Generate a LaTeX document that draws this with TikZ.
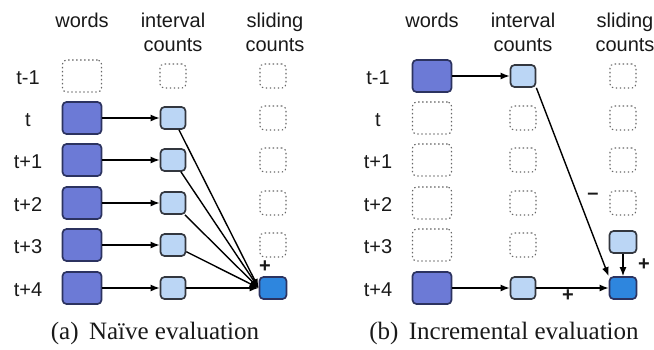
\documentclass[tikz,border=0pt]{standalone}
\usepackage{fontspec}
\usetikzlibrary{arrows.meta}
\setmainfont{Liberation Serif}
\setsansfont{Liberation Sans}
\definecolor{wordfill}{HTML}{6C7AD6}
\definecolor{wordline}{HTML}{2C3360}
\definecolor{intfill}{HTML}{BBD6F5}
\definecolor{intline}{HTML}{33373F}
\definecolor{slidefill}{HTML}{2E86DE}
\begin{document}
\begin{tikzpicture}[x=1pt,y=-1pt,
  lbl/.style={font=\sffamily\fontsize{20}{24}\selectfont, align=center, text=black!90},
  captext/.style={font=\fontsize{25}{30}\selectfont, text=black!90},
  wordbox/.style={draw=wordline, fill=wordfill, line width=1.7pt, rounded corners=4pt,
    minimum width=39pt, minimum height=32pt, inner sep=0pt},
  intbox/.style={draw=intline, fill=intfill, line width=1.7pt, rounded corners=4pt,
    minimum width=25pt, minimum height=22pt, inner sep=0pt},
  slidebox/.style={draw=intline, fill=intfill, line width=1.7pt, rounded corners=4pt,
    minimum width=27pt, minimum height=22pt, inner sep=0pt},
  sumbox/.style={slidebox, fill=slidefill, draw=wordline},
  emptyword/.style={draw=gray!80!black, dash pattern=on 1.4pt off 2.6pt, line width=1.1pt,
    rounded corners=4pt, minimum width=39pt, minimum height=32pt, inner sep=0pt},
  emptycount/.style={emptyword, minimum width=26pt, minimum height=24pt},
  link/.style={line width=1.4pt, -{Latex[length=9pt,width=7pt]}}]
\useasboundingbox (0,0) rectangle (654,349);
% (a) naive evaluation
\begin{scope}
\node[lbl] (awords) at (82,20) {words};
\node[lbl] (aint) at (173,32) {interval\\counts};
\node[lbl] (aslide) at (275,32) {sliding\\counts};
\node[lbl] (at0) at (28,78) {t-1};
\node[lbl] (at1) at (28,120) {t};
\node[lbl] (at2) at (28,162) {t+1};
\node[lbl] (at3) at (28,205) {t+2};
\node[lbl] (at4) at (28,247) {t+3};
\node[lbl] (at5) at (28,290) {t+4};
\node[emptyword] (aw0) at (82,76) {};
\node[wordbox] (aw1) at (82,118) {};
\node[wordbox] (aw2) at (82,160) {};
\node[wordbox] (aw3) at (82,203) {};
\node[wordbox] (aw4) at (82,245) {};
\node[wordbox] (aw5) at (82,288) {};
\node[emptycount] (ai0) at (173,76) {};
\node[intbox] (ai1) at (173,118) {};
\node[intbox] (ai2) at (173,160) {};
\node[intbox] (ai3) at (173,203) {};
\node[intbox] (ai4) at (173,245) {};
\node[intbox] (ai5) at (173,288) {};
\node[emptycount] (as0) at (273,76) {};
\node[emptycount] (as1) at (273,118) {};
\node[emptycount] (as2) at (273,160) {};
\node[emptycount] (as3) at (273,203) {};
\node[emptycount] (as4) at (273,245) {};
\node[sumbox] (as5) at (273,288) {};
\draw[link] (aw1) -- (ai1);
\draw[link] (aw2) -- (ai2);
\draw[link] (aw3) -- (ai3);
\draw[link] (aw4) -- (ai4);
\draw[link] (aw5) -- (ai5);
\draw[link] (ai1) -- (as5.west);
\draw[link] (ai2) -- (as5.west);
\draw[link] (ai3) -- (as5.west);
\draw[link] (ai4) -- (as5.west);
\draw[link] (ai5) -- (as5.west);
\node[lbl] (aplus) at (265,267) {\textbf{+}};
\node[captext] (acap) at (155,333) {(a)\, Naïve evaluation};
\end{scope}
% (b) incremental evaluation
\begin{scope}[xshift=350pt]
\node[lbl] (bwords) at (82,20) {words};
\node[lbl] (bint) at (173,32) {interval\\counts};
\node[lbl] (bslide) at (275,32) {sliding\\counts};
\node[lbl] (bt0) at (28,78) {t-1};
\node[lbl] (bt1) at (28,120) {t};
\node[lbl] (bt2) at (28,162) {t+1};
\node[lbl] (bt3) at (28,205) {t+2};
\node[lbl] (bt4) at (28,247) {t+3};
\node[lbl] (bt5) at (28,290) {t+4};
\node[wordbox] (bw0) at (82,76) {};
\node[emptyword] (bw1) at (82,118) {};
\node[emptyword] (bw2) at (82,160) {};
\node[emptyword] (bw3) at (82,203) {};
\node[emptyword] (bw4) at (82,245) {};
\node[wordbox] (bw5) at (82,288) {};
\node[intbox] (bi0) at (173,76) {};
\node[emptycount] (bi1) at (173,118) {};
\node[emptycount] (bi2) at (173,160) {};
\node[emptycount] (bi3) at (173,203) {};
\node[emptycount] (bi4) at (173,245) {};
\node[intbox] (bi5) at (173,288) {};
\node[emptycount] (bs0) at (273,76) {};
\node[emptycount] (bs1) at (273,118) {};
\node[emptycount] (bs2) at (273,160) {};
\node[emptycount] (bs3) at (273,203) {};
\node[slidebox] (bs4) at (273,242) {};
\node[sumbox] (bs5) at (273,288) {};
\draw[link] (bw0) -- (bi0);
\draw[link] (bw5) -- (bi5);
\draw[link] (bi5) -- (bs5);
\draw[link] (bi0.south east) -- (bs5.north west);
\draw[link] (bs4) -- (bs5);
\node[lbl] (bminus) at (243,196) {\textbf{–}};
\node[lbl] (bplus1) at (294,265) {\textbf{+}};
\node[lbl] (bplus2) at (218,296) {\textbf{+}};
\node[captext] (bcap) at (154,333) {(b)\, Incremental evaluation};
\end{scope}
\end{tikzpicture}
\end{document}
